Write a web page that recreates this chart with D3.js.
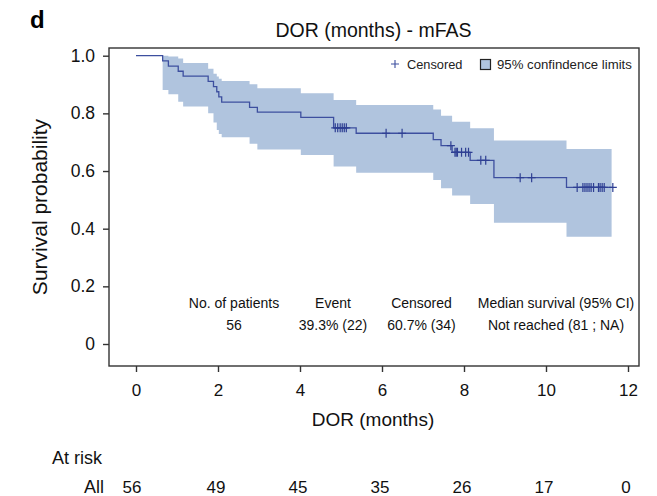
<!DOCTYPE html>
<html>
<head>
<meta charset="utf-8">
<script src="https://cdn.jsdelivr.net/npm/d3@7"></script>
<style>
  html, body { margin: 0; padding: 0; background: #ffffff; }
  svg { display: block; font-family: "Liberation Sans", Arial, sans-serif; }
</style>
</head>
<body>
<svg id="chart" width="657" height="496"></svg>
<script>
// ---------- data ----------
const eventTimes = [0.65, 0.79, 1.03, 1.15, 1.76, 1.89, 1.97, 2.02, 2.09, 2.77, 2.96, 4.02, 4.82, 5.37, 7.25, 7.44, 7.71, 8.15, 8.73, 10.5];
const survival   = [0.982, 0.964, 0.946, 0.929, 0.911, 0.893, 0.875, 0.857, 0.839, 0.821, 0.804, 0.786, 0.750, 0.731, 0.709, 0.688, 0.665, 0.637, 0.577, 0.543];
const upperCI    = [1.000, 0.997, 0.990, 0.975, 0.955, 0.937, 0.928, 0.920, 0.912, 0.901, 0.887, 0.870, 0.846, 0.829, 0.813, 0.792, 0.771, 0.748, 0.706, 0.676];
const lowerCI    = [0.881, 0.866, 0.840, 0.824, 0.800, 0.768, 0.742, 0.728, 0.717, 0.695, 0.675, 0.656, 0.616, 0.594, 0.569, 0.540, 0.515, 0.486, 0.421, 0.372];
const censorTimes = [4.86, 4.92, 4.98, 5.03, 5.08, 5.13, 6.10, 6.49, 7.68, 7.78, 7.81, 7.84, 7.94, 8.04, 8.11, 8.41, 8.53, 9.37, 9.65,
                     10.76, 10.90, 10.95, 11.00, 11.05, 11.10, 11.16, 11.28, 11.32, 11.37, 11.42, 11.63];
const lastTime = 11.63;
const bandEnd = 11.60;

const xTicks = [0, 2, 4, 6, 8, 10, 12];
const yTicks = [0, 0.2, 0.4, 0.6, 0.8, 1.0];
const yTickLabels = ["0", "0.2", "0.4", "0.6", "0.8", "1.0"];
const atRisk = [56, 49, 45, 35, 26, 17, 0];

const summaryHeaders = ["No. of patients", "Event", "Censored", "Median survival (95% CI)"];
const summaryValues  = ["56", "39.3% (22)", "60.7% (34)", "Not reached (81 ; NA)"];

// ---------- layout ----------
const svg = d3.select("#chart");
const frame = { left: 109, right: 639, top: 48, bottom: 366 };
const x = d3.scaleLinear().domain([0, 12]).range([136, 628]);
const y = d3.scaleLinear().domain([0, 1]).range([344, 55.7]);

const lineColor = "#3d4f9f";
const bandColor = "#b0c4de";
const axisColor = "#333333";

// survival lookup on the step curve (for positioning censor marks)
function survAt(t) {
  let s = 1;
  for (let i = 0; i < eventTimes.length; i++) { if (eventTimes[i] <= t) s = survival[i]; }
  return s;
}

// ---------- CI band ----------
const bandData = eventTimes.map((t, i) => ({ t, lo: lowerCI[i], hi: upperCI[i] }));
bandData.push({ t: bandEnd, lo: lowerCI[lowerCI.length - 1], hi: upperCI[upperCI.length - 1] });
svg.append("path")
  .datum(bandData)
  .attr("fill", bandColor)
  .attr("stroke", "none")
  .attr("d", d3.area().curve(d3.curveStepAfter)
    .x(d => x(d.t)).y0(d => y(d.lo)).y1(d => y(d.hi)));

// ---------- KM curve ----------
const curveData = [{ t: 0, s: 1 }].concat(eventTimes.map((t, i) => ({ t, s: survival[i] })));
curveData.push({ t: lastTime, s: survival[survival.length - 1] });
svg.append("path")
  .datum(curveData)
  .attr("fill", "none")
  .attr("stroke", lineColor)
  .attr("stroke-width", 1.3)
  .attr("d", d3.line().curve(d3.curveStepAfter).x(d => x(d.t)).y(d => y(d.s)));

// ---------- censor marks ----------
svg.append("g").selectAll("path")
  .data(censorTimes)
  .join("path")
  .attr("fill", "none")
  .attr("stroke", "#2e3f93")
  .attr("stroke-width", 1.2)
  .attr("d", t => {
    const cx = x(t), cy = y(survAt(t));
    return `M${cx},${cy - 4.5}V${cy + 4.5}M${cx - 4},${cy}H${cx + 4}`;
  });

// ---------- frame ----------
svg.append("rect")
  .attr("x", frame.left).attr("y", frame.top)
  .attr("width", frame.right - frame.left).attr("height", frame.bottom - frame.top)
  .attr("fill", "none").attr("stroke", axisColor).attr("stroke-width", 1.4);

// ---------- axes ----------
const xAxis = svg.append("g")
  .attr("transform", `translate(0,${frame.bottom})`)
  .call(d3.axisBottom(x).tickValues(xTicks).tickFormat(d3.format("d")).tickSize(6).tickPadding(12));
xAxis.select(".domain").remove();
xAxis.selectAll("line").attr("stroke", axisColor).attr("stroke-width", 1.4);
xAxis.selectAll("text").attr("font-size", 17).attr("fill", "#111").attr("font-family", "Liberation Sans, Arial, sans-serif");

const yAxis = svg.append("g")
  .attr("transform", `translate(${frame.left},0)`)
  .call(d3.axisLeft(y).tickValues(yTicks).tickFormat((d, i) => yTickLabels[i]).tickSize(6).tickPadding(8));
yAxis.select(".domain").remove();
yAxis.selectAll("line").attr("stroke", axisColor).attr("stroke-width", 1.4);
yAxis.selectAll("text").attr("font-size", 17.5).attr("fill", "#111").attr("font-family", "Liberation Sans, Arial, sans-serif");

// ---------- titles ----------
svg.append("text").attr("x", 30).attr("y", 28)
  .attr("font-size", 24).attr("font-weight", "bold").attr("fill", "#000")
  .text("d");

svg.append("text").attr("x", 373.5).attr("y", 37)
  .attr("text-anchor", "middle").attr("font-size", 19.5).attr("fill", "#111")
  .text("DOR (months) - mFAS");

svg.append("text")
  .attr("transform", `translate(47,${(frame.top + frame.bottom) / 2}) rotate(-90)`)
  .attr("text-anchor", "middle").attr("font-size", 21).attr("fill", "#111")
  .text("Survival probability");

svg.append("text").attr("x", 373).attr("y", 426)
  .attr("text-anchor", "middle").attr("font-size", 19).attr("fill", "#111")
  .text("DOR (months)");

// ---------- legend ----------
const lg = svg.append("g");
lg.append("path").attr("fill", "none").attr("stroke", lineColor).attr("stroke-width", 1.1)
  .attr("d", "M391,64H399M395,60V68");
lg.append("text").attr("x", 407).attr("y", 68.5).attr("font-size", 12.8).attr("fill", "#222").text("Censored");
lg.append("rect").attr("x", 480.5).attr("y", 59.5).attr("width", 10).attr("height", 10)
  .attr("fill", bandColor).attr("stroke", "#222").attr("stroke-width", 1.2);
lg.append("text").attr("x", 497).attr("y", 68.5).attr("font-size", 13.2).attr("fill", "#222").text("95% confindence limits");

// ---------- summary text ----------
const summaryX = [234, 333, 421.5, 556];
summaryHeaders.forEach((h, i) => {
  svg.append("text").attr("x", summaryX[i]).attr("y", 308)
    .attr("text-anchor", "middle").attr("font-size", 14).attr("fill", "#111").text(h);
  svg.append("text").attr("x", summaryX[i]).attr("y", 329.5)
    .attr("text-anchor", "middle").attr("font-size", 14).attr("fill", "#111").text(summaryValues[i]);
});

// ---------- at-risk table ----------
svg.append("text").attr("x", 52).attr("y", 464).attr("font-size", 18).attr("fill", "#111").text("At risk");
svg.append("text").attr("x", 84).attr("y", 493).attr("font-size", 18).attr("fill", "#111").text("All");
svg.append("g").selectAll("text")
  .data(atRisk)
  .join("text")
  .attr("x", (d, i) => x(xTicks[i]) - (i === 0 ? 4 : 2))
  .attr("y", 493)
  .attr("text-anchor", "middle")
  .attr("font-size", 17)
  .attr("fill", "#111")
  .text(d => d);
</script>
</body>
</html>
